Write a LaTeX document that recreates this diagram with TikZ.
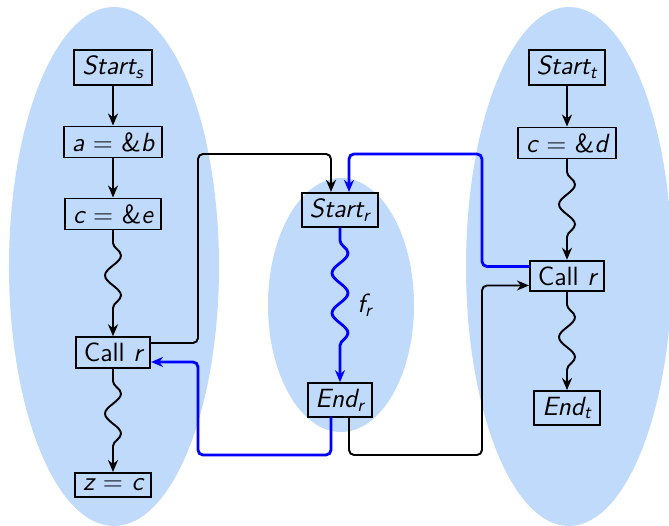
\documentclass[tikz,border=0pt]{standalone}
\usepackage{tikz}
\usetikzlibrary{arrows.meta,decorations.pathmorphing}
\definecolor{regionblue}{RGB}{191,218,251}

\begin{document}
\begin{tikzpicture}[>={Stealth[length=2.4mm,width=2mm]},font=\sffamily\fontsize{15}{18}\selectfont,line cap=round,
  stmt/.style={draw,line width=1.1pt,inner xsep=4.5pt,inner ysep=3.3pt},
  flow/.style={->,line width=1.1pt},
  back/.style={->,blue,line width=1.6pt},
  elbow/.style={rounded corners=1mm},
  wave/.style={decorate,decoration={snake,amplitude=1.6mm,segment length=8mm,pre length=2.5mm,post length=4mm}}]
\useasboundingbox (0,0) rectangle (13.38,10.52);
\fill[regionblue] (2.28,5.19) ellipse [x radius=2.1,y radius=5.19];
\fill[regionblue] (6.82,4.42) ellipse [x radius=1.46,y radius=2.54];
\fill[regionblue] (11.38,5.19) ellipse [x radius=2.06,y radius=5.19];
\node[stmt] (startS) at (2.26,9.17) {{\itshape Start}\textsubscript{\itshape s}};
\node[stmt] (ab) at (2.26,7.68) {{\itshape a} = \&{\itshape b}};
\node[stmt] (ce) at (2.26,6.24) {{\itshape c} = \&{\itshape e}};
\node[stmt] (callS) at (2.26,3.47) {Call {\itshape r}};
\node[stmt] (zc) at (2.26,0.82) {{\itshape z} = {\itshape c}};
\node[stmt] (startR) at (6.80,6.32) {{\itshape Start}\textsubscript{\itshape r}};
\node[stmt] (endR) at (6.80,2.52) {{\itshape End}\textsubscript{\itshape r}};
\node[stmt] (startT) at (11.34,9.17) {{\itshape Start}\textsubscript{\itshape t}};
\node[stmt] (cd) at (11.34,7.66) {{\itshape c} = \&{\itshape d}};
\node[stmt] (callT) at (11.34,5.00) {Call {\itshape r}};
\node[stmt] (endT) at (11.34,2.36) {{\itshape End}\textsubscript{\itshape t}};
\draw[flow] (startS) -- (ab);
\draw[flow] (ab) -- (ce);
\draw[flow,wave] (ce) -- (callS);
\draw[flow,wave] (callS) -- (zc);
\draw[flow] (startT) -- (cd);
\draw[flow,wave] (cd) -- (callT);
\draw[flow,wave] (callT) -- (endT);
\draw[back,wave] (startR) -- (endR);
\path (startR.south) -- (endR.north) node[pos=0.5,right=3.4mm,inner sep=0pt] (fR) {{\itshape f}\textsubscript{\itshape r}};
\draw[flow,elbow] ([yshift=1.9mm]callS.east) -| (3.96,7.44) -| ([xshift=-1.8mm]startR.north);
\draw[back,elbow] ([yshift=1.9mm]callT.west) -| (9.64,7.44) -| ([xshift=1.8mm]startR.north);
\draw[back,elbow] ([xshift=-1.8mm]endR.south) |- (3.96,1.42) |- ([yshift=-1.9mm]callS.east);
\draw[flow,elbow] ([xshift=1.8mm]endR.south) |- (9.64,1.42) |- ([yshift=-1.9mm]callT.west);
\end{tikzpicture}
\end{document}
